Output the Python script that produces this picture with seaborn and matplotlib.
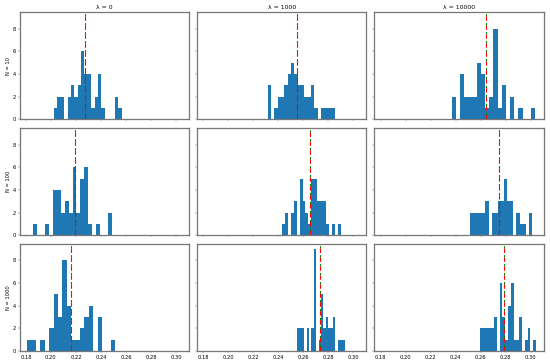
import numpy as np
import pandas as pd
import matplotlib
matplotlib.use("Agg")
import matplotlib.pyplot as plt
import seaborn as sns

lambdas = ["λ = 0", "λ = 1000", "λ = 10000"]
sizes = ["N = 10", "N = 100", "N = 1000"]

# per panel: range of the data (min, max) and counts in 20 equal bins
range_10 = [(0.2024, 0.2567), (0.2314, 0.2850), (0.2370, 0.3034)]
range_100 = [(0.1859, 0.2487), (0.2430, 0.2898), (0.2514, 0.3010)]
range_1000 = [(0.1811, 0.2513), (0.2550, 0.2933), (0.2594, 0.3042)]

counts_10 = [
    [1, 2, 2, 0, 2, 3, 2, 3, 6, 4, 4, 1, 2, 4, 1, 0, 0, 0, 2, 1],
    [3, 0, 1, 2, 2, 3, 4, 5, 4, 3, 3, 2, 2, 3, 1, 0, 1, 1, 1, 1],
    [2, 0, 4, 2, 2, 2, 5, 4, 1, 2, 8, 1, 3, 0, 2, 0, 1, 0, 0, 1],
]
counts_100 = [
    [1, 0, 0, 1, 0, 4, 4, 2, 3, 2, 6, 2, 5, 6, 1, 0, 1, 0, 0, 2],
    [1, 2, 0, 2, 3, 0, 5, 3, 2, 1, 5, 5, 3, 3, 3, 1, 0, 1, 0, 1],
    [2, 2, 2, 2, 2, 3, 0, 2, 2, 3, 3, 5, 3, 3, 0, 2, 1, 1, 0, 2],
]
counts_1000 = [
    [1, 1, 0, 1, 0, 2, 5, 3, 8, 4, 1, 1, 2, 3, 4, 0, 3, 0, 0, 1],
    [2, 2, 2, 0, 2, 0, 2, 9, 0, 1, 5, 2, 3, 2, 2, 3, 0, 1, 1, 1],
    [2, 2, 2, 2, 2, 3, 0, 6, 3, 1, 4, 6, 1, 1, 3, 0, 1, 2, 0, 1],
]

# dashed reference lines (mean in red, median in green) - they nearly coincide
means = [[0.2273, 0.2547, 0.2645], [0.2190, 0.2651, 0.2744], [0.2161, 0.2732, 0.2786]]
medians = [[0.2273, 0.2547, 0.2645], [0.2190, 0.2651, 0.2744], [0.2161, 0.2732, 0.2786]]

ranges = [range_10, range_100, range_1000]
counts = [counts_10, counts_100, counts_1000]

fig, axes = plt.subplots(3, 3, figsize=(15, 9.873), sharex=True, sharey=True)
fig.subplots_adjust(left=0.0356, right=0.9885, top=0.966, bottom=0.0304,
                    wspace=0.047, hspace=0.081)

for i in range(3):
    for j in range(3):
        ax = axes[i, j]
        lo, hi = ranges[i][j]
        edges = np.linspace(lo, hi, 21)
        df = pd.DataFrame({"value": (edges[:-1] + edges[1:]) / 2,
                           "count": counts[i][j]})
        sns.histplot(data=df, x="value", weights="count", bins=edges.tolist(),
                     ax=ax, color="#1f77b4", alpha=1, linewidth=0)
        ax.axvline(means[i][j], color="red", linestyle=(0, (4, 4)), linewidth=2.2)
        ax.axvline(medians[i][j], color="green", linestyle=(4, (2, 6)), linewidth=2.2)
        ax.set_xlabel("")
        ax.set_ylabel("")
        for sp in ax.spines.values():
            sp.set_color("#777777")
            sp.set_linewidth(2.5)
        ax.tick_params(color="#555555")
        if i == 0:
            ax.set_title(lambdas[j])
        if j == 0:
            ax.set_ylabel(sizes[i])

axes[0, 0].set_xticks([0.18, 0.20, 0.22, 0.24, 0.26, 0.28, 0.30])
axes[0, 0].set_yticks([0, 2, 4, 6, 8])

fig.savefig("out.png", dpi=550 / 15)
